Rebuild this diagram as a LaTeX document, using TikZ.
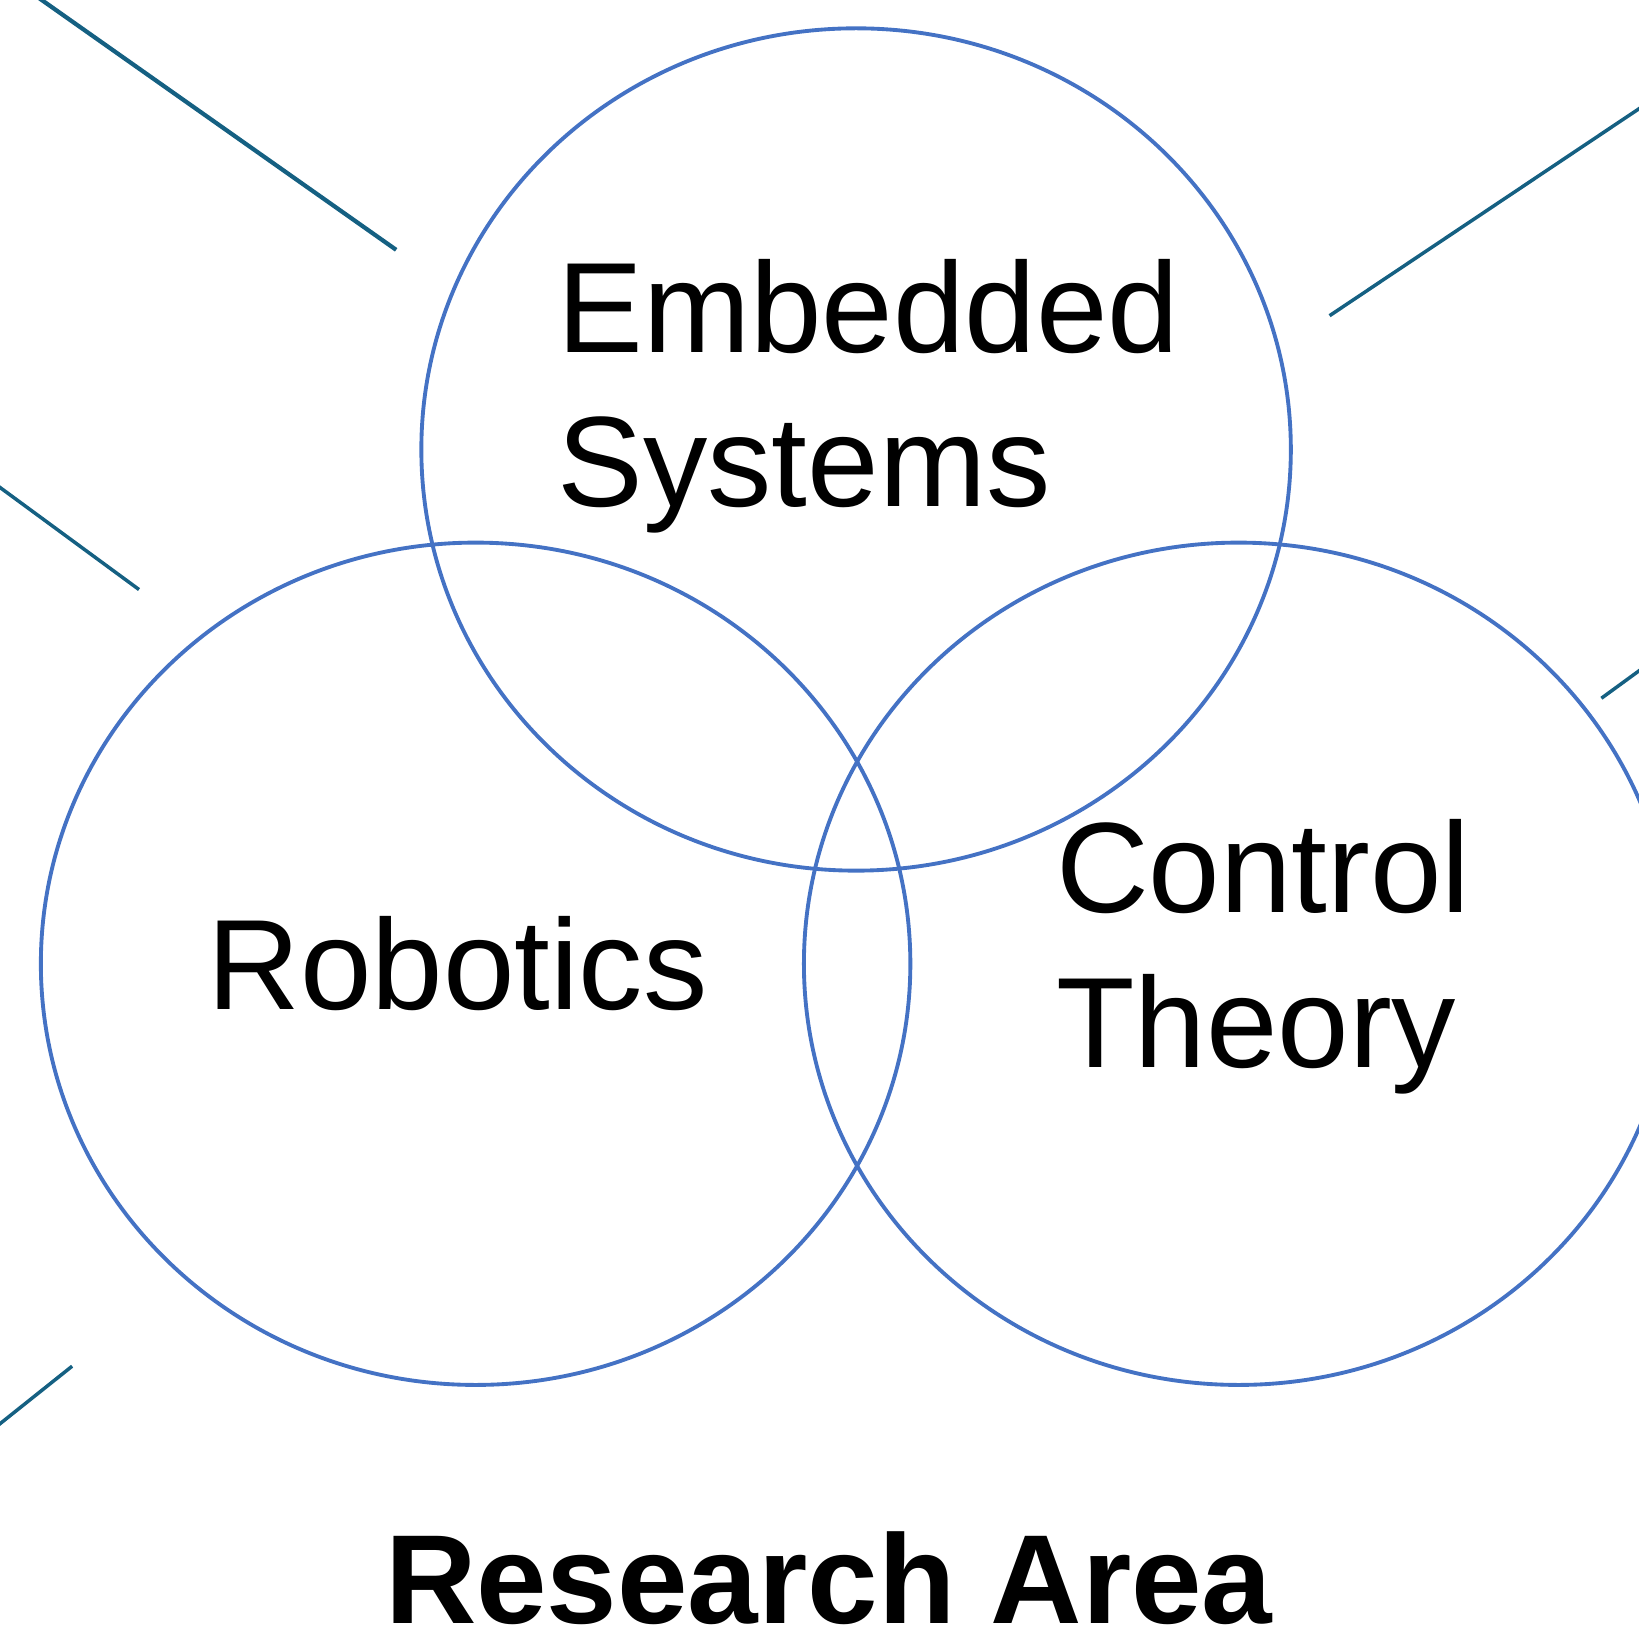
\documentclass[tikz,border=0pt]{standalone}
\usepackage{fontspec}
\setmainfont{Liberation Sans}
\usepackage{xcolor}
\usetikzlibrary{shapes.geometric}
\definecolor{vennblue}{HTML}{4472C4}
\definecolor{decoteal}{HTML}{156082}
\tikzset{
    venn_set/.style = {ellipse, draw=vennblue, line width=2.1pt, minimum width=16.64cm, minimum height=16.12cm, inner sep=0pt},
    area_label/.style = {align=left, inner sep=0pt, font=\fontsize{70}{84}\selectfont, anchor=base west},
    title_label/.style = {inner sep=0pt, font=\fontsize{69}{84}\selectfont\bfseries, anchor=base west},
    deco_line/.style = {draw=decoteal, line width=1.9pt}
}

\begin{document}
\begin{tikzpicture}[x=0.02cm, y=-0.02cm]
    \useasboundingbox (0,0) rectangle (1568,1563);
    \clip (0,0) rectangle (1568,1563);
    % the three sets
    \node [venn_set] (embedded) at (819,430) {};
    \node [venn_set] (robotics) at (455,922) {};
    \node [venn_set] (control) at (1185,922) {};
    % labels (base = last line)
    \node [area_label] (embedded_txt) at (533,485) {Embedded\\Systems};
    \node [area_label] (robotics_txt) at (198,966) {Robotics};
    \node [area_label] (control_txt) at (1010,1021) {Control\\Theory};
    \node [title_label] (title) at (368,1553) {Research Area};
    % loose strokes
    \coordinate (tl_a) at (30,-7);
    \coordinate (tl_b) at (379,239);
    \coordinate (tr_a) at (1580,96);
    \coordinate (tr_b) at (1272,302);
    \coordinate (l_a) at (-10,459);
    \coordinate (l_b) at (133,564);
    \coordinate (r_a) at (1580,633);
    \coordinate (r_b) at (1532,668);
    \coordinate (bl_a) at (-10,1370);
    \coordinate (bl_b) at (69,1307);
    \draw [deco_line, line width=2.3pt] (tl_a) -- (tl_b);
    \draw [deco_line] (tr_a) -- (tr_b);
    \draw [deco_line] (l_a) -- (l_b);
    \draw [deco_line] (r_a) -- (r_b);
    \draw [deco_line] (bl_a) -- (bl_b);
\end{tikzpicture}
\end{document}
